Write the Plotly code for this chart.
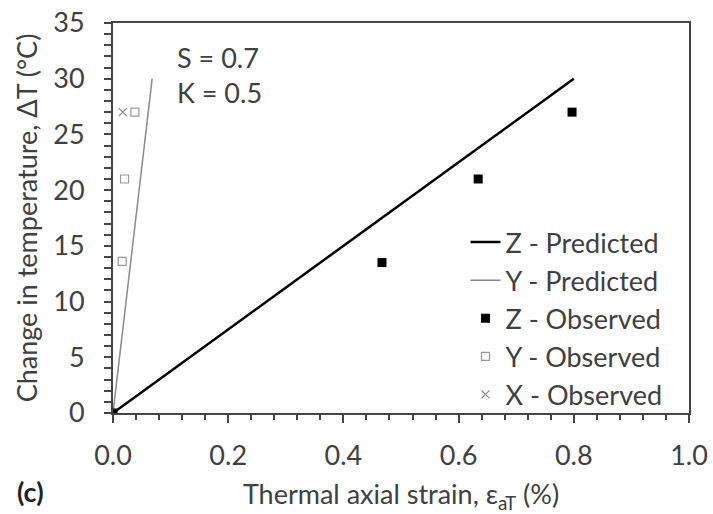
import plotly.graph_objects as go

# Data
z_pred_x = [0.0, 0.8]
z_pred_y = [0.0, 30.0]
y_pred_x = [0.0, 0.068]
y_pred_y = [0.0, 30.0]
z_obs_x = [0.0, 0.467, 0.634, 0.797]
z_obs_y = [0.0, 13.5, 21.0, 27.0]
y_obs_x = [0.016, 0.020, 0.038]
y_obs_y = [13.6, 21.0, 27.0]
x_obs_x = [0.017]
x_obs_y = [27.0]

x_ticks = [0.0, 0.2, 0.4, 0.6, 0.8, 1.0]
x_tick_labels = ["0.0", "0.2", "0.4", "0.6", "0.8", "1.0"]
y_ticks = [0, 5, 10, 15, 20, 25, 30, 35]

FONT = "Lato"
FS = 27
TXT = "#404040"

fig = go.Figure()
fig.add_trace(go.Scatter(x=z_pred_x, y=z_pred_y, mode="lines", name="Z - Predicted",
                         line=dict(color="black", width=2.5), legendgroup="a"))
fig.add_trace(go.Scatter(x=y_pred_x, y=y_pred_y, mode="lines", name="Y - Predicted",
                         line=dict(color="#8a8a8a", width=1.5), legendgroup="b"))
fig.add_trace(go.Scatter(x=z_obs_x, y=z_obs_y, mode="markers", name="Z - Observed",
                         marker=dict(symbol="square", color="black", size=9), legendgroup="c"))
fig.add_trace(go.Scatter(x=y_obs_x, y=y_obs_y, mode="markers", name="Y - Observed",
                         marker=dict(symbol="square-open", color="#999999", size=8,
                                     line=dict(width=1.2)), legendgroup="d"))
fig.add_trace(go.Scatter(x=x_obs_x, y=x_obs_y, mode="markers", name="X - Observed",
                         marker=dict(symbol="x-thin-open", color="#888888", size=8,
                                     line=dict(width=1.2, color="#888888")), legendgroup="e"))

axis_common = dict(showline=True, linecolor="#444444", linewidth=2, mirror=True,
                   showgrid=False, zeroline=False, ticks="outside", tickcolor="#444444",
                   automargin=False,
                   tickfont=dict(family=FONT, size=FS, color=TXT))

fig.update_xaxes(range=[0, 1.0], tickvals=x_ticks, ticktext=x_tick_labels, ticklen=8, tickwidth=1.5,
                 ticklabelstandoff=10,
                 minor=dict(dtick=0.04, ticks="outside", ticklen=5, tickcolor="#444444", tickwidth=1.5),
                 title=dict(text="Thermal axial strain, ε<sub>aT</sub> (%)",
                            font=dict(family=FONT, size=FS, color=TXT), standoff=16),
                 **axis_common)
fig.update_yaxes(range=[0, 35], tickvals=y_ticks, ticklen=7, tickwidth=1.5,
                 ticklabelstandoff=14,
                 minor=dict(dtick=1, ticks="outside", ticklen=7, tickcolor="#444444", tickwidth=1.5),
                 title=dict(text="Change in temperature, ΔT (°C)",
                            font=dict(family=FONT, size=FS, color=TXT), standoff=8),
                 **axis_common)

fig.add_annotation(xref="x", yref="y", x=0.108, y=30.3, text="S = 0.7<br>K = 0.5",
                   showarrow=False, xanchor="left", yanchor="middle", align="left",
                   font=dict(family=FONT, size=FS, color=TXT))
fig.add_annotation(xref="paper", yref="paper", x=-0.17, y=-0.2, text="<b>(c)</b>",
                   showarrow=False, xanchor="left", yanchor="middle",
                   font=dict(family=FONT, size=FS, color="#222222"))

fig.update_layout(
    width=713, height=514,
    margin=dict(l=113, r=24, t=23, b=101),
    plot_bgcolor="white", paper_bgcolor="white",
    showlegend=True,
    legend=dict(x=0.612, y=0.5, xanchor="left", yanchor="top", traceorder="grouped",
                tracegroupgap=0, itemwidth=30, bgcolor="rgba(0,0,0,0)",
                font=dict(family=FONT, size=FS, color=TXT)),
)

fig.write_html("out.html")
